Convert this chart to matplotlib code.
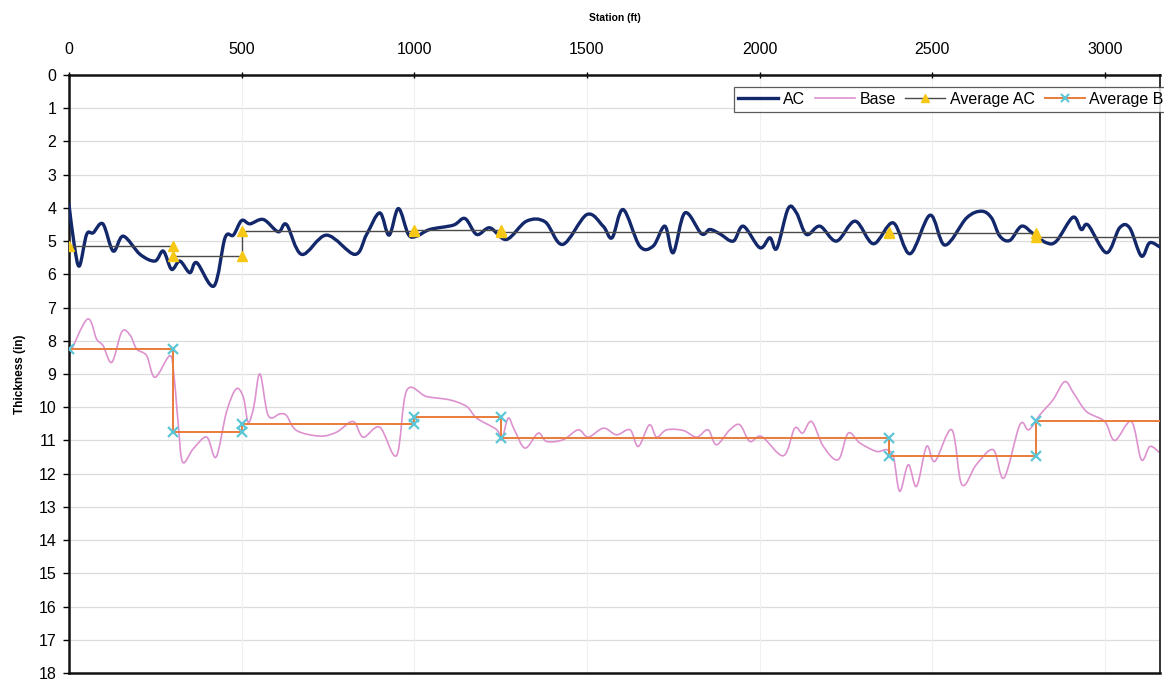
import matplotlib
matplotlib.use("Agg")
import matplotlib.pyplot as plt
import numpy as np
from matplotlib.path import Path
from matplotlib.patches import PathPatch
from matplotlib.lines import Line2D

plt.rcParams['font.family'] = ['Liberation Sans', 'DejaVu Sans']

# ---------------- data ----------------
ac_station = [0, 15, 30, 51, 70, 98, 128, 157, 206, 249, 273, 297, 321, 350, 370,
              420, 452, 476, 500, 524, 563, 606, 630, 674, 746, 828, 862, 900, 927,
              954, 983, 1007, 1045, 1113, 1147, 1181, 1219, 1267, 1325, 1379, 1430,
              1500, 1547, 1573, 1605, 1653, 1692, 1726, 1750, 1784, 1832, 1856, 1885,
              1924, 1953, 2001, 2030, 2050, 2083, 2107, 2136, 2175, 2223, 2277, 2330,
              2387, 2436, 2494, 2537, 2600, 2643, 2672, 2696, 2725, 2759, 2793, 2831,
              2860, 2908, 2932, 2952, 3005, 3043, 3072, 3106, 3130, 3160]
ac_thick = [3.9, 5.1, 5.75, 4.8, 4.75, 4.48, 5.3, 4.85, 5.4, 5.6, 5.3, 5.85, 5.6, 5.95, 5.65,
            6.35, 4.9, 4.82, 4.38, 4.48, 4.35, 4.72, 4.5, 5.4, 4.82, 5.4, 4.8, 4.15, 4.82,
            4.02, 4.8, 4.85, 4.65, 4.52, 4.32, 4.8, 4.6, 4.95, 4.4, 4.42, 5.1,
            4.2, 4.55, 4.9, 4.05, 5.15, 5.15, 4.55, 5.35, 4.15, 4.78, 4.65, 4.78,
            5.0, 4.55, 5.2, 4.9, 5.22, 4.02, 4.15, 4.8, 4.55, 5.0, 4.4, 5.08,
            4.45, 5.38, 4.22, 5.12, 4.3, 4.1, 4.3, 4.85, 4.98, 4.55, 4.78, 5.05,
            5.0, 4.28, 4.65, 4.52, 5.35, 4.6, 4.6, 5.45, 5.05, 5.18]

base_station = [0, 53, 80, 99, 124, 153, 177, 196, 225, 249, 292, 304, 316, 329, 360,
                399, 426, 456, 484, 505, 519, 535, 553, 577, 611, 630, 659, 727, 775,
                823, 852, 900, 949, 978, 1036, 1103, 1152, 1181, 1239, 1253, 1272, 1290,
                1321, 1359, 1383, 1431, 1475, 1504, 1548, 1586, 1625, 1649, 1681, 1702,
                1731, 1779, 1818, 1851, 1875, 1914, 1943, 1972, 2006, 2069, 2102, 2125,
                2151, 2185, 2228, 2257, 2291, 2339, 2368, 2388, 2406, 2431, 2455, 2484,
                2508, 2557, 2586, 2628, 2677, 2708, 2754, 2780, 2812, 2850, 2884, 2910,
                2947, 3000, 3029, 3077, 3106, 3131, 3160]
base_thick = [8.45, 7.35, 7.95, 8.15, 8.65, 7.73, 7.83, 8.25, 8.45, 9.1, 8.45, 9.05, 10.45, 11.65, 11.25,
              10.9, 11.5, 10.15, 9.45, 9.7, 10.45, 10.0, 9.0, 10.25, 10.2, 10.25, 10.7, 10.87, 10.75,
              10.43, 10.9, 10.6, 11.45, 9.5, 9.68, 9.78, 9.98, 10.33, 10.68, 10.98, 10.33, 10.68,
              11.23, 10.78, 11.03, 10.98, 10.68, 10.9, 10.63, 10.83, 10.68, 11.18, 10.53, 10.9,
              10.68, 10.7, 10.9, 10.68, 11.13, 10.68, 10.53, 11.03, 10.88, 11.46, 10.63, 10.78,
              10.43, 11.18, 11.58, 10.78, 11.08, 11.33, 11.28, 11.5, 12.53, 11.73, 12.38, 11.18,
              11.63, 10.68, 12.33, 11.73, 11.28, 12.13, 10.53, 10.68, 10.23, 9.78, 9.23, 9.58,
              10.13, 10.43, 11.0, 10.43, 11.58, 11.18, 11.38]

avg_station = [0, 300, 300, 500, 500, 1000, 1000, 1250, 1250, 2375, 2375, 2800, 2800, 3200]
avg_ac = [5.15, 5.15, 5.45, 5.45, 4.7, 4.7, 4.68, 4.68, 4.72, 4.72, 4.75, 4.75, 4.88, 4.88]
avg_base = [8.25, 8.25, 10.75, 10.75, 10.5, 10.5, 10.3, 10.3, 10.92, 10.92, 11.48, 11.48, 10.42, 10.42]

x_ticks = [0, 500, 1000, 1500, 2000, 2500, 3000]
y_ticks = list(range(0, 19))

legend_labels = ["AC", "Base", "Average AC", "Average B"]

AC_COLOR = "#13286b"
BASE_COLOR = "#dd92cf"
AVG_AC_COLOR = "#4a4a4a"
AVG_AC_MARK = "#f7c815"
AVG_B_COLOR = "#e97b3c"
AVG_B_MARK = "#5cc6d6"


def smooth_path(xs, ys):
    """Excel-style smoothed line drawn as Bezier curves through the data points."""
    p = np.column_stack([xs, ys]).astype(float)
    n = len(p)
    verts = [p[0]]
    codes = [Path.MOVETO]
    for i in range(n - 1):
        p0 = p[i - 1] if i > 0 else p[i]
        p1 = p[i]
        p2 = p[i + 1]
        p3 = p[i + 2] if i + 2 < n else p[i + 1]
        c1 = p1 + (p2 - p0) / 6.0
        c2 = p2 - (p3 - p1) / 6.0
        verts += [c1, c2, p2]
        codes += [Path.CURVE4] * 3
    return Path(verts, codes)


fig = plt.figure(figsize=(11.64, 6.8), dpi=100)
ax = fig.add_axes([69 / 1164, 1 - 673 / 680, (1160 - 69) / 1164, (673 - 75) / 680])

ax.set_xlim(0, 3160)
ax.set_ylim(18, 0)

# grid
for y in y_ticks[1:-1]:
    ax.axhline(y, color="#dcdcdc", lw=0.9, zorder=0)
for x in x_ticks[1:]:
    ax.axvline(x, color="#f0f0f0", lw=0.8, zorder=0)

# smoothed data lines
ax.add_patch(PathPatch(smooth_path(base_station, base_thick), fill=False,
                       edgecolor=BASE_COLOR, lw=1.2, zorder=2))
ax.add_patch(PathPatch(smooth_path(ac_station, ac_thick), fill=False,
                       edgecolor=AC_COLOR, lw=2.4, zorder=3, capstyle="round",
                       joinstyle="round"))

# averages
ax.plot(avg_station, avg_ac, color=AVG_AC_COLOR, lw=1.0, zorder=4)
ax.plot(avg_station[:-1], avg_ac[:-1], ls="none", marker="^", ms=7,
        color=AVG_AC_MARK, mec=AVG_AC_MARK, zorder=5)
ax.plot(avg_station, avg_base, color=AVG_B_COLOR, lw=1.4, zorder=4)
ax.plot(avg_station[:-1], avg_base[:-1], ls="none", marker="x", ms=7, mew=1.6,
        color=AVG_B_MARK, zorder=5)

# axes styling
ax.xaxis.set_ticks_position("top")
ax.xaxis.set_label_position("top")
ax.set_xticks(x_ticks)
ax.set_yticks(y_ticks)
ax.tick_params(axis="x", which="major", labelsize=11.5, length=4, width=1,
               direction="inout", pad=11)
ax.tick_params(axis="y", which="major", labelsize=11.5, length=4, width=1,
               direction="out", pad=5)
for side in ["left", "top", "bottom"]:
    ax.spines[side].set_linewidth(1.8)
    ax.spines[side].set_color("#111111")
ax.spines["right"].set_linewidth(1.4)
ax.spines["right"].set_color("#333333")

ax.set_xlabel("Station (ft)", fontsize=7.5, fontweight="bold", labelpad=15)
ax.set_ylabel("Thickness (in)", fontsize=8.5, fontweight="bold", labelpad=9)

handles = [
    Line2D([], [], color=AC_COLOR, lw=2.4),
    Line2D([], [], color=BASE_COLOR, lw=1.2),
    Line2D([], [], color=AVG_AC_COLOR, lw=1.0, marker="^", ms=6,
           mfc=AVG_AC_MARK, mec=AVG_AC_MARK),
    Line2D([], [], color=AVG_B_COLOR, lw=1.4, marker="x", ms=6, mew=1.5,
           mec=AVG_B_MARK),
]
leg = fig.legend(handles, legend_labels, ncol=4, loc="upper right",
                 bbox_to_anchor=(1.004, 1 - 87 / 680), fontsize=11.5,
                 frameon=True, fancybox=False, edgecolor="#333333",
                 handlelength=2.5, handletextpad=0.3, columnspacing=0.6,
                 borderpad=0.3, borderaxespad=0.0)
leg.get_frame().set_linewidth(0.9)

fig.savefig("out.png", dpi=100)
